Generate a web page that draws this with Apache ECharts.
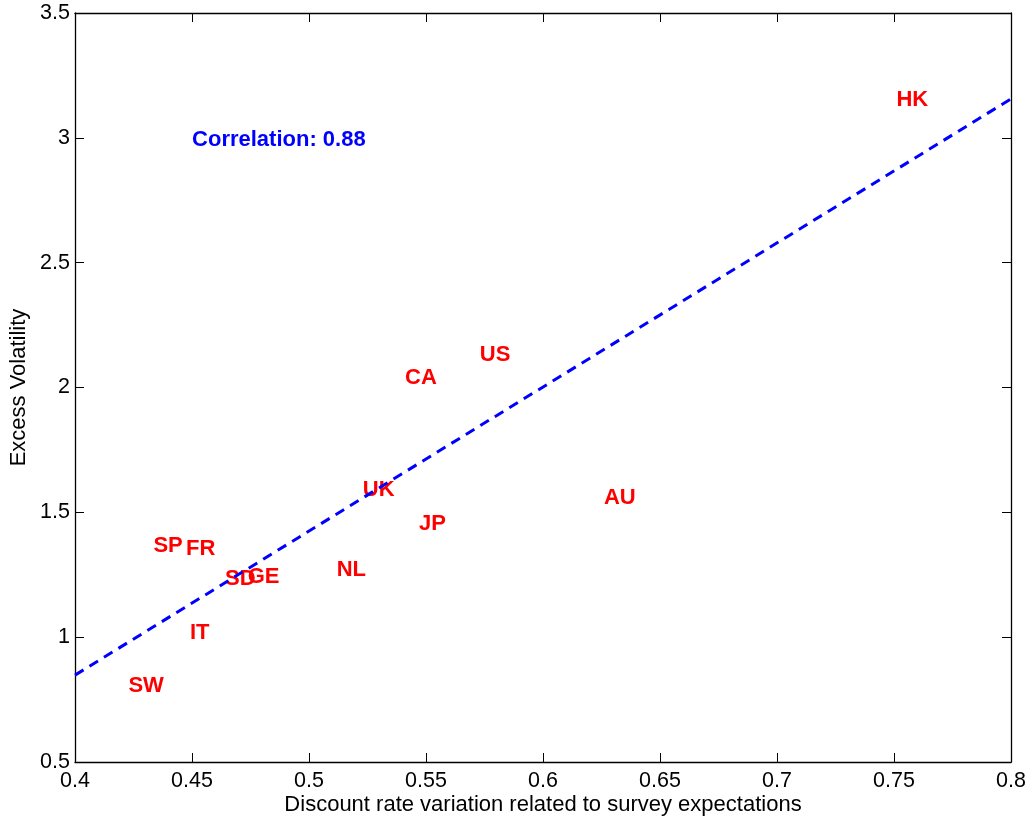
<!DOCTYPE html>
<html>
<head>
<meta charset="utf-8">
<script src="https://cdn.jsdelivr.net/npm/echarts@6/dist/echarts.min.js"></script>
<style>html,body{margin:0;padding:0;background:#fff;}#c{width:1031px;height:820px;}</style>
</head>
<body>
<div id="c"></div>
<script>
const countries = ['HK','US','CA','UK','AU','JP','SP','FR','NL','SD','GE','IT','SW'];
const discountVar = [0.751,0.573,0.541,0.523,0.626,0.547,0.4335,0.4474,0.5118,0.4641,0.4738,0.4491,0.4228];
const excessVol = [3.163,2.141,2.050,1.601,1.568,1.464,1.376,1.365,1.281,1.242,1.253,1.025,0.813];
const fitX = [0.4, 0.8];
const fitY = [0.848, 3.156];
const corrText = 'Correlation: 0.88';
const corrPos = [0.45, 3.0];
const xTicks = {min:0.4, max:0.8, interval:0.05};
const yTicks = {min:0.5, max:3.5, interval:0.5};

const FONT = 'Liberation Sans, Arial, sans-serif';
const chart = echarts.init(document.getElementById('c'), null, {renderer:'canvas'});

const axisCommon = {
  axisLine:{show:true, lineStyle:{color:'#000', width:1.3}},
  axisTick:{show:true, inside:true, length:9, lineStyle:{color:'#000', width:1}},
  splitLine:{show:false}
};

chart.setOption({
  animation:false,
  backgroundColor:'#fff',
  grid:{left:75, right:20, top:13, bottom:58, containLabel:false, outerBoundsMode:'none'},
  xAxis:[
    Object.assign({type:'value', position:'bottom', min:xTicks.min, max:xTicks.max, interval:xTicks.interval,
      name:'Discount rate variation related to survey expectations', nameLocation:'middle', nameGap:32,
      nameMoveOverlap:false,
      nameTextStyle:{fontFamily:FONT, fontSize:22, color:'#000'},
      axisLabel:{fontFamily:FONT, fontSize:21.5, color:'#000', margin:8, showMinLabel:true, showMaxLabel:true}}, axisCommon),
    Object.assign({type:'value', position:'top', min:xTicks.min, max:xTicks.max, interval:xTicks.interval,
      axisLabel:{show:false}}, axisCommon)
  ],
  yAxis:[
    Object.assign({type:'value', position:'left', min:yTicks.min, max:yTicks.max, interval:yTicks.interval,
      name:'Excess Volatility', nameLocation:'middle', nameGap:45,
      nameMoveOverlap:false,
      nameTextStyle:{fontFamily:FONT, fontSize:22, color:'#000'},
      axisLabel:{fontFamily:FONT, fontSize:21.5, color:'#000', margin:5, showMinLabel:true, showMaxLabel:true}}, axisCommon),
    Object.assign({type:'value', position:'right', min:yTicks.min, max:yTicks.max, interval:yTicks.interval,
      axisLabel:{show:false}}, axisCommon)
  ],
  series:[
    {
      type:'line', xAxisIndex:0, yAxisIndex:0,
      data: fitX.map((x,i)=>[x, fitY[i]]),
      symbol:'none', silent:true,
      lineStyle:{color:'#0000ff', width:3, type:[10,7]}
    },
    {
      type:'scatter', xAxisIndex:0, yAxisIndex:0,
      symbolSize:0.1, itemStyle:{color:'rgba(0,0,0,0)', opacity:1},
      data: countries.map((c,i)=>({name:c, value:[discountVar[i], excessVol[i]]})),
      label:{show:true, position:'right', distance:0, offset:[0,2.5], formatter:p=>p.name,
        fontFamily:FONT, fontSize:22, fontWeight:'bold', color:'#ff0000', opacity:1}
    },
    {
      type:'scatter', xAxisIndex:0, yAxisIndex:0,
      symbolSize:0.1, itemStyle:{color:'rgba(0,0,0,0)', opacity:1},
      data:[{name:corrText, value:corrPos}],
      label:{show:true, position:'right', distance:0, offset:[0,2.5], formatter:p=>p.name,
        fontFamily:FONT, fontSize:22, fontWeight:'bold', color:'#0000ff', opacity:1}
    }
  ]
});
</script>
</body>
</html>
